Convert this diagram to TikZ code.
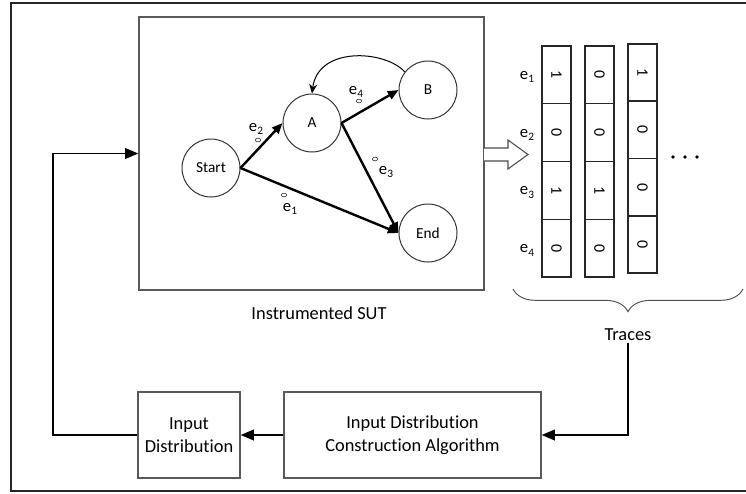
\documentclass[tikz,border=0pt]{standalone}
\usepackage{fontspec}
\setmainfont{Carlito}[Ligatures=NoCommon]
\usetikzlibrary{arrows.meta,decorations.pathreplacing,calc}
\newcommand{\esub}[1]{e\raisebox{-0.45ex}{\fontsize{8.5}{8.5}\selectfont #1}}
\begin{document}
\begin{tikzpicture}[x=0.75pt,y=-0.75pt,
  state/.style={circle,draw=black!80,line width=0.75pt,minimum size=43.5pt,inner sep=0pt,font=\fontsize{11.5}{12}\selectfont},
  box/.style={draw=black!65,line width=0.9pt,inner sep=0pt,align=center,font=\fontsize{13.8}{17.3}\selectfont},
  gedge/.style={line width=1.8pt,-{Triangle[length=8pt,width=6.5pt]}},
  flow/.style={line width=1.4pt,-{Triangle[length=10pt,width=8pt]}},
  cell/.style={draw=black!85,line width=1.1pt,minimum height=21.75pt,inner sep=0pt,rotate=-90,font=\fontsize{12}{12}\selectfont},
  elab/.style={font=\fontsize{12.5}{12.5}\selectfont,inner sep=0pt},
  probe/.style={draw=black!75,line width=0.5pt},
  lbl/.style={font=\fontsize{13.8}{16}\selectfont,inner sep=1.5pt}
]
\useasboundingbox (0,0) rectangle (746,493);
\clip (0,0) rectangle (746,493);
% outer frame
\draw[line width=1.5pt,draw=black!85] (770,3) -- (11,3) -- (11,491) -- (770,491);

% SUT box
\node[box,minimum width=258.75pt,minimum height=204.75pt] (sut) at (311.5,153.5) {};
\node[lbl] (sutlbl) at (319,313) {Instrumented SUT};

% state machine
\node[state] (start) at (211,168) {Start};
\node[state] (A) at (312,123) {A};
\node[state] (B) at (428,90) {B};
\node[state] (end) at (428,233) {End};
\draw[gedge] (start.east) -- (A.west);
\draw[gedge] (start.east) -- (end.west);
\draw[gedge] (A.east) -- (B.west);
\draw[gedge] (A.east) -- (end.west);
\draw[line width=0.75pt,-{Stealth[length=7pt,width=6pt]}] (B.142) .. controls (385,50) and (318,46) .. (A.north);

% edge labels and probes
\node[elab] (l2) at (256,129) {\esub{2}};
\node[elab] (l1) at (290,209) {\esub{1}};
\node[elab] (l4) at (356,92) {\esub{4}};
\node[elab] (l3) at (386,172) {\esub{3}};
\draw[probe] (258,140) ellipse [x radius=2pt,y radius=1.4pt];
\draw[probe] (284,195) ellipse [x radius=2pt,y radius=1.4pt];
\draw[probe] (359,101) ellipse [x radius=2pt,y radius=1.4pt];
\draw[probe] (375,159) ellipse [x radius=2pt,y radius=1.4pt];

% hollow arrow
\draw[line width=0.8pt,draw=black!70,fill=white] (484,148) -- (508,148) -- (508,140) -- (528,154.5) -- (508,169) -- (508,161) -- (484,161);

% trace cells
\foreach \v [count=\r from 0] in {1,0,1,0}
  \node[cell,minimum width=43.3pt] (a\r) at (556.5,{46+57.75*(\r+0.5)}) {\v};
\foreach \v [count=\r from 0] in {0,0,1,0}
  \node[cell,minimum width=43.3pt] (b\r) at (599.5,{46+57.75*(\r+0.5)}) {\v};
\foreach \v [count=\r from 0] in {1,0,0,0}
  \node[cell,minimum width=42.9pt] (c\r) at (642.5,{44+57.25*(\r+0.5)}) {\v};
\foreach \r in {0,1,2,3}
  \node[elab] (e\r) at (527,{77+57.75*\r}) {\esub{\the\numexpr\r+1\relax}};

% dots
\fill (673,157) circle (1.4pt);
\fill (685,157) circle (1.4pt);
\fill (697,157) circle (1.4pt);

% brace
\draw[draw=black!70,line width=0.7pt,decorate,decoration={brace,mirror,amplitude=17pt}] (513,289) -- (743,289);
\node[lbl] (traces) at (628,335) {Traces};

% bottom boxes
\node[box,minimum width=76.5pt,minimum height=64.5pt] (indist) at (189,435) {Input\\Distribution};
\node[box,minimum width=192.75pt,minimum height=64.5pt] (algo) at (412.5,435) {Input Distribution\\Construction Algorithm};

% flows
\coordinate (fb) at (53,153.5);
\draw[flow] (traces.south) |- (algo.east);
\draw[flow] (algo.west) -- (indist.east);
\draw[flow] (indist.west) -| (fb) -- (sut.west);
\end{tikzpicture}
\end{document}
